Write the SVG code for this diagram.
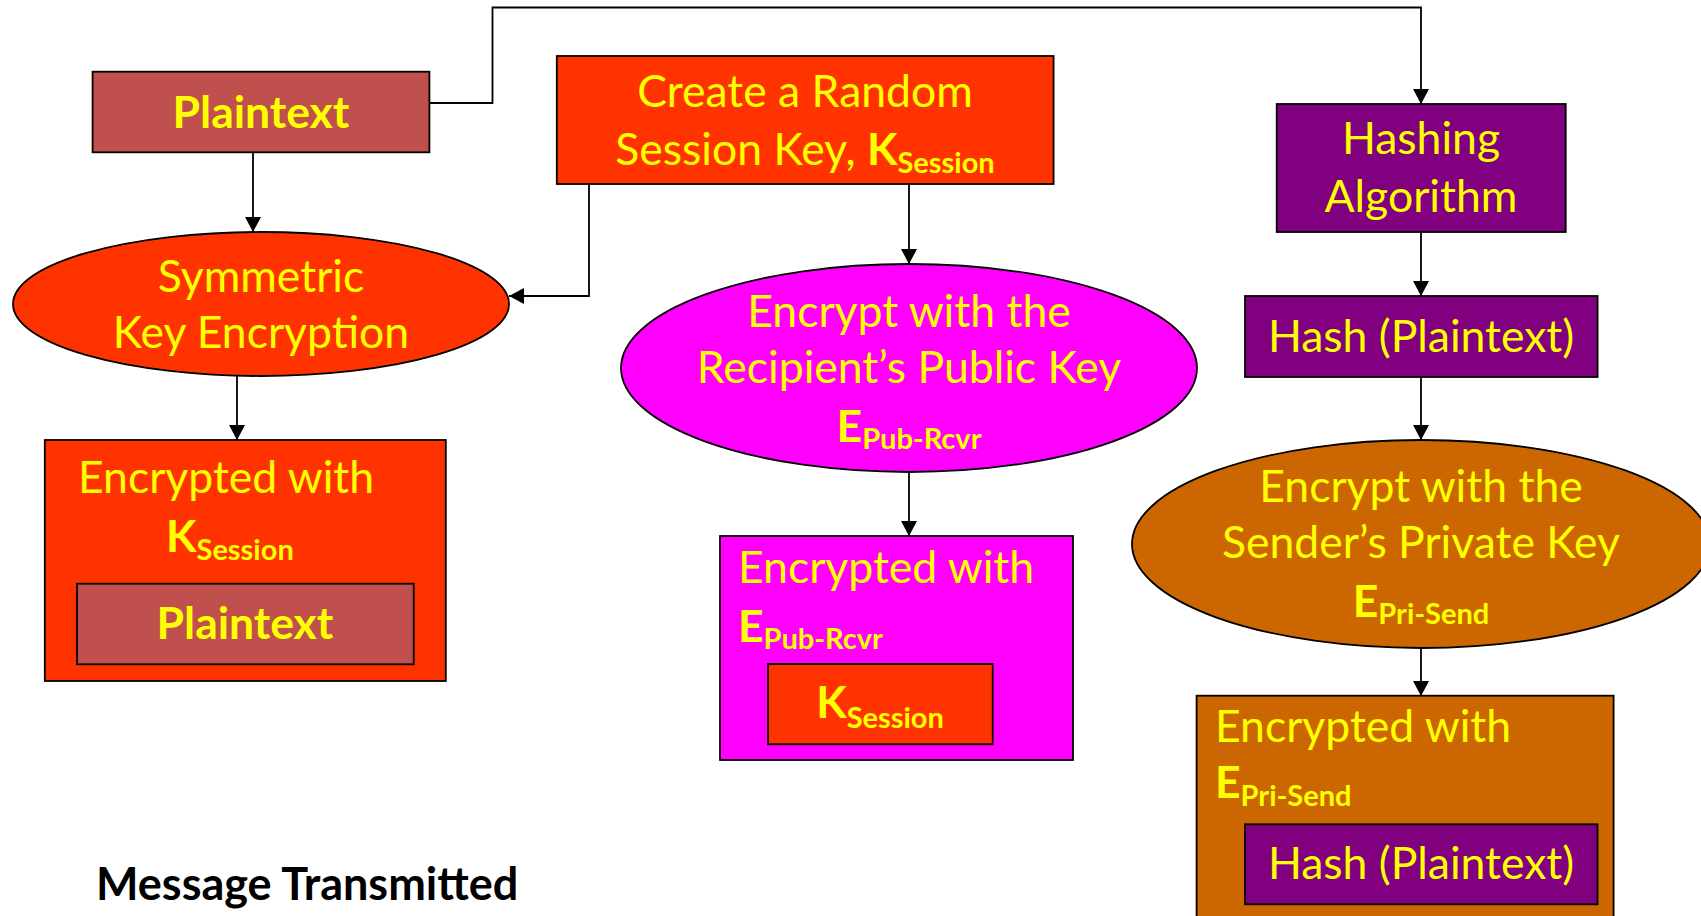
<svg xmlns="http://www.w3.org/2000/svg" width="1701" height="916" viewBox="0 0 1701 916">
<defs>
<marker id="arr" markerUnits="userSpaceOnUse" markerWidth="16" markerHeight="16" refX="15" refY="8" orient="auto">
<path d="M0,0 L15,8 L0,16 z" fill="#000"/>
</marker>
<style>
.t{font-family:Lato,"Open Sans",sans-serif;font-size:44.5px;fill:#FFFF00}
.b{font-weight:bold}
.c{text-anchor:middle}
.sub{font-size:29px;font-weight:bold}
.shape{stroke:#000;stroke-width:1.8}
.conn{fill:none;stroke:#000;stroke-width:1.8;marker-end:url(#arr)}
</style>
</defs>
<rect width="1701" height="916" fill="#fff"/>
<g id="connectors">
<path class="conn" d="M429,103 H492.5 V7.5 H1421 V104"/>
<path class="conn" d="M253,152 V232"/>
<path class="conn" d="M589,184 V296 H509"/>
<path class="conn" d="M909,184 V264"/>
<path class="conn" d="M237,376 V440"/>
<path class="conn" d="M909,472 V536"/>
<path class="conn" d="M1421,232 V296"/>
<path class="conn" d="M1421,377 V440"/>
<path class="conn" d="M1421,648 V696"/>
</g>
<g id="plaintext">
<rect class="shape" x="92.6" y="71.7" width="336.8" height="80.6" fill="#C0504D"/>
<text class="t b c" x="261" y="128">Plaintext</text>
</g>
<g id="create-session-key">
<rect class="shape" x="556.8" y="56" width="496.8" height="128" fill="#FF3300"/>
<text class="t c" x="805" y="107">Create a Random</text>
<text class="t c" x="805" y="165">Session Key, <tspan class="b">K</tspan><tspan class="sub" dy="8">Session</tspan></text>
</g>
<g id="symmetric">
<ellipse class="shape" cx="261" cy="304" rx="248" ry="72" fill="#FF3300"/>
<text class="t c" x="261" y="292">Symmetric</text>
<text class="t c" x="261" y="348">Key Encryption</text>
</g>
<g id="encrypt-public">
<ellipse class="shape" cx="909" cy="368" rx="288" ry="104" fill="#FF00FF"/>
<text class="t c" x="909" y="327">Encrypt with the</text>
<text class="t c" x="909" y="383">Recipient’s Public Key</text>
<text class="t c" x="909" y="442"><tspan class="b">E</tspan><tspan class="sub" dy="7">Pub-Rcvr</tspan></text>
</g>
<g id="hashing">
<rect class="shape" x="1276.7" y="104" width="289" height="128" fill="#800080"/>
<text class="t c" x="1421" y="154">Hashing</text>
<text class="t c" x="1421" y="212">Algorithm</text>
</g>
<g id="hash-plaintext">
<rect class="shape" x="1245" y="296" width="352.6" height="81" fill="#800080"/>
<text class="t c" x="1421" y="352">Hash (Plaintext)</text>
</g>
<g id="encrypt-private">
<ellipse class="shape" cx="1421" cy="544" rx="289" ry="104" fill="#CC6600"/>
<text class="t c" x="1421" y="502">Encrypt with the</text>
<text class="t c" x="1421" y="558">Sender’s Private Key</text>
<text class="t c" x="1421" y="617"><tspan class="b">E</tspan><tspan class="sub" dy="7">Pri-Send</tspan></text>
</g>
<g id="msg-session">
<rect class="shape" x="44.8" y="440" width="401" height="241" fill="#FF3300"/>
<text class="t" x="78" y="493">Encrypted with</text>
<text class="t" x="166" y="552"><tspan class="b">K</tspan><tspan class="sub" dy="8">Session</tspan></text>
<rect class="shape" x="77" y="583.7" width="336.7" height="80.6" fill="#C0504D"/>
<text class="t b c" x="245" y="639">Plaintext</text>
</g>
<g id="msg-public">
<rect class="shape" x="720" y="536" width="353" height="224" fill="#FF00FF"/>
<text class="t" x="738" y="583">Encrypted with</text>
<text class="t" x="738" y="642"><tspan class="b">E</tspan><tspan class="sub" dy="7">Pub-Rcvr</tspan></text>
<rect class="shape" x="768" y="664" width="224.7" height="80.3" fill="#FF3300"/>
<text class="t c" x="880" y="718"><tspan class="b">K</tspan><tspan class="sub" dy="10">Session</tspan></text>
</g>
<g id="msg-private">
<rect class="shape" x="1196.6" y="695.7" width="417" height="240" fill="#CC6600"/>
<text class="t" x="1215" y="742">Encrypted with</text>
<text class="t" x="1215" y="798"><tspan class="b">E</tspan><tspan class="sub" dy="8">Pri-Send</tspan></text>
<rect class="shape" x="1245" y="824.3" width="352.5" height="80" fill="#800080"/>
<text class="t c" x="1421" y="879">Hash (Plaintext)</text>
</g>
<g id="label">
<text x="96" y="900" style="font-family:Lato,'Open Sans',sans-serif;font-size:45px;font-weight:bold;fill:#000">Message Transmitted</text>
</g>
</svg>
